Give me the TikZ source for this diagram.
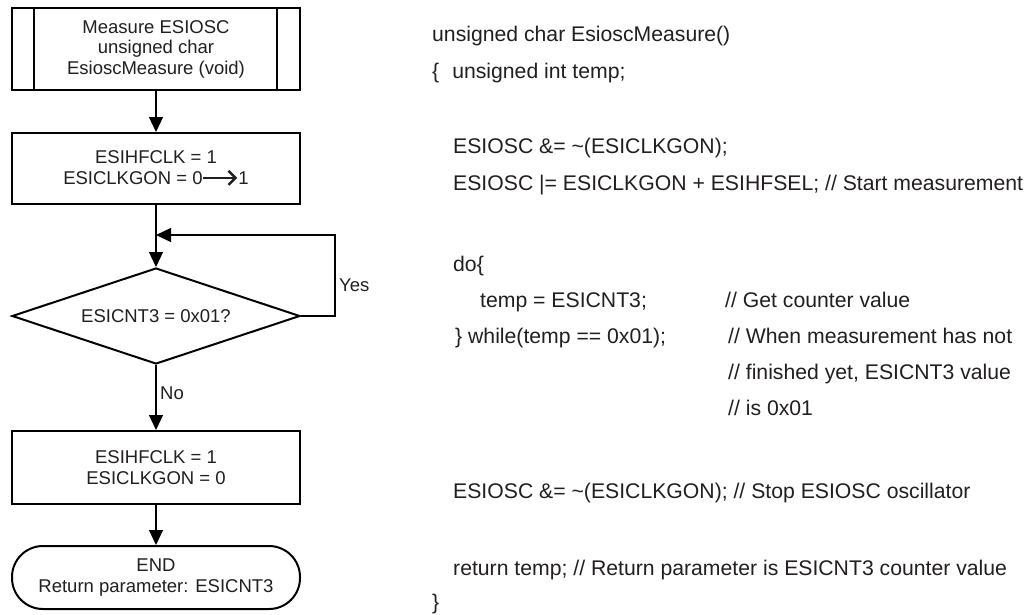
\documentclass[tikz,border=0pt]{standalone}
\usepackage{fontspec}
\setmainfont{Liberation Sans}
\usetikzlibrary{shapes.geometric,arrows.meta,calc}
\definecolor{ink}{RGB}{35,31,32}
\begin{document}
\begin{tikzpicture}[x=1pt,y=-1pt,
  flowfont/.style={font=\fontsize{18.5}{20.5}\selectfont},
  box/.style={draw=black,line width=2pt,minimum width=288pt,inner sep=0pt,align=center,text=ink,flowfont},
  decision/.style={draw=black,diamond,aspect=3,line width=2pt,minimum width=288pt,minimum height=96pt,inner sep=0pt,text=ink,flowfont},
  conn/.style={line width=1.2pt,draw=black},
  arr/.style={conn,-{Triangle[length=15pt,width=14pt]}},
  code/.style={anchor=base west,inner sep=0pt,text=ink,font=\fontsize{21.2}{25}\selectfont},
  lbl/.style={anchor=base west,inner sep=0pt,text=ink,flowfont}]
\useasboundingbox (0,0) rectangle (1027,614);
\fill[white] (0,0) rectangle (1027,614);
% flowchart
\node[box,minimum height=82pt] (start) at (156,49) {Measure ESIOSC\\unsigned char\\EsioscMeasure (void)};
\draw[line width=1.2pt] ($(start.north west)+(23,0)$) -- ($(start.south west)+(23,0)$);
\draw[line width=1.2pt] ($(start.north east)+(-24,0)$) -- ($(start.south east)+(-24,0)$);
\node[box,minimum height=71pt] (on) at (156,168.5) {ESIHFCLK = 1\\ESICLKGON = 0\tikz[baseline=0pt]{\draw[line width=1.3pt,-{Straight Barb[length=7pt,width=14pt,line width=2.4pt]}] (0pt,6.5pt) -- (34pt,6.5pt);}1};
\node[decision] (dec) at (156,316) {ESICNT3 = 0x01?};
\node[box,minimum height=73pt] (off) at (156,467.5) {ESIHFCLK = 1\\ESICLKGON = 0};
\node[box,minimum height=63pt,rounded corners=31pt] (end) at (156,577.5) {END\\Return parameter: ESICNT3};
\coordinate (loopc) at (335,235);
\coordinate (join) at (156,235);
\draw[arr] (start) -- (on);
\draw[arr] (on) -- (dec);
\draw[arr] (dec.east) -| (loopc) -- (join);
\draw[arr] (dec) -- (off);
\draw[arr] (off) -- (end);
\node[lbl] (yes) at (339,291) {Yes};
\node[lbl] (no) at (160,399) {No};
% code
\node[code] (c1) at (432,41) {unsigned char EsioscMeasure()};
\node[code] (c2) at (432,78) {\{\hspace{13pt}unsigned int temp;};
\node[code] (c3) at (453,153) {ESIOSC \&= \textasciitilde(ESICLKGON);};
\node[code] (c4) at (453,190) {ESIOSC |= ESICLKGON + ESIHFSEL; // Start measurement};
\node[code] (c5) at (453,271) {do\{};
\node[code] (c6) at (480,307) {temp = ESICNT3;};
\node[code] (c6c) at (725,307) {// Get counter value};
\node[code] (c7) at (455,343) {\} while(temp == 0x01);};
\node[code] (c7c) at (728,343) {// When measurement has not};
\node[code] (c8) at (728,379) {// finished yet, ESICNT3 value};
\node[code] (c9) at (728,415) {// is 0x01};
\node[code] (c10) at (453,498) {ESIOSC \&= \textasciitilde(ESICLKGON); // Stop ESIOSC oscillator};
\node[code] (c11) at (453,575) {return temp; // Return parameter is ESICNT3 counter value};
\node[code] (c12) at (432,609) {\}};
\end{tikzpicture}
\end{document}
